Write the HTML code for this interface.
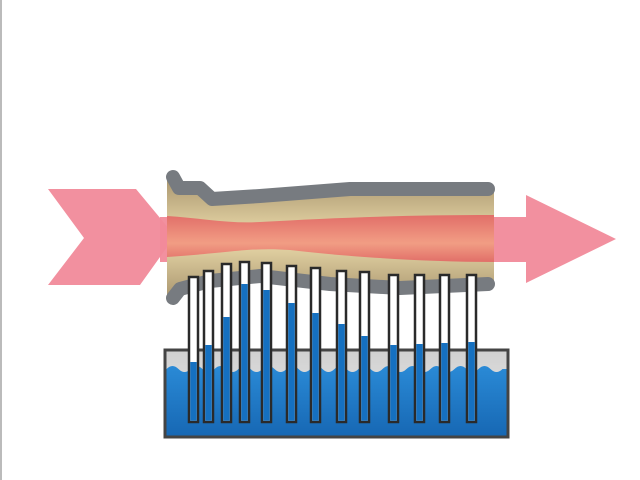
<!DOCTYPE html>
<html><head><meta charset="utf-8"><style>html,body{margin:0;padding:0;background:#fff}svg{display:block}</style></head>
<body>
<svg width="640" height="480" viewBox="0 0 640 480" xmlns="http://www.w3.org/2000/svg">
<defs>
<linearGradient id="beige" x1="0" y1="0" x2="0" y2="1">
<stop offset="0" stop-color="#a8946e"/><stop offset="0.5" stop-color="#ecdcab"/><stop offset="1" stop-color="#a8946e"/>
</linearGradient>
<linearGradient id="red" x1="0" y1="0" x2="0" y2="1">
<stop offset="0" stop-color="#e26a66"/><stop offset="0.6" stop-color="#f29a82"/><stop offset="1" stop-color="#e26a66"/>
</linearGradient>
<linearGradient id="water" x1="0" y1="0" x2="0" y2="1">
<stop offset="0" stop-color="#2a8ad6"/><stop offset="1" stop-color="#1768b4"/>
</linearGradient>
<linearGradient id="air" x1="0" y1="0" x2="0" y2="1">
<stop offset="0" stop-color="#d0d0d0"/><stop offset="1" stop-color="#eeeeee"/>
</linearGradient>
</defs>
<rect x="0" y="0" width="2" height="480" fill="#bbbbbb"/>
<polygon points="48,189 136,189 175,236 140,285 48,285 84,238" fill="#f18a9a" opacity="0.95"/>
<polygon points="160,217 526,217 526,195 616,239 526,283 526,262 160,262" fill="#f18a9a" opacity="0.95"/>
<path d="M167,176 L178,188 L200,188 L212,199 L260,196 L350,189 L494,189 L494,285 L400,288 L330,284 L260,276 L210,283 L180,289 L167,300 Z" fill="url(#beige)"/>
<path d="M167,216 C200,218 230,224 260,222 C330,218 400,215 494,215 L494,262 C420,262 340,256 290,250 C250,247 230,253 167,257 Z" fill="url(#red)" opacity="0.95"/>
<path d="M173,177 L179,188 L200,188 L212,199 L260,196 L350,189 L488,189" fill="none" stroke="#777b80" stroke-width="14" stroke-linecap="round" stroke-linejoin="round"/>
<path d="M173,298 L180,289 L210,281 L260,276 L330,284 L400,288 L488,284" fill="none" stroke="#777b80" stroke-width="14" stroke-linecap="round" stroke-linejoin="round"/>
<rect x="165" y="350" width="343" height="87" fill="url(#air)"/>
<path d="M166.5,369 q6,-6 12,0 t12,0 t12,0 t12,0 t12,0 t12,0 t12,0 t12,0 t12,0 t12,0 t12,0 t12,0 t12,0 t12,0 t12,0 t12,0 t12,0 t12,0 t12,0 t12,0 t12,0 t12,0 t12,0 t12,0 t12,0 t12,0 t12,0 t12,0 L506.5,369 L506.5,435.5 L166.5,435.5 Z" fill="url(#water)"/>
<rect x="165" y="350" width="343" height="87" fill="none" stroke="#444" stroke-width="3"/>
<g stroke="#2a2a2a" stroke-width="2.5">
<rect x="189" y="277" width="9" height="145" fill="#fff"/>
<rect x="204" y="271" width="9" height="151" fill="#fff"/>
<rect x="222" y="264" width="9" height="158" fill="#fff"/>
<rect x="240" y="262" width="9" height="160" fill="#fff"/>
<rect x="262" y="263" width="9" height="159" fill="#fff"/>
<rect x="287" y="266" width="9" height="156" fill="#fff"/>
<rect x="311" y="268" width="9" height="154" fill="#fff"/>
<rect x="337" y="271" width="9" height="151" fill="#fff"/>
<rect x="360" y="272" width="9" height="150" fill="#fff"/>
<rect x="389" y="275" width="9" height="147" fill="#fff"/>
<rect x="415" y="275" width="9" height="147" fill="#fff"/>
<rect x="440" y="275" width="9" height="147" fill="#fff"/>
<rect x="467" y="275" width="9" height="147" fill="#fff"/>
</g>
<g fill="#1570c0">
<rect x="190.25" y="362" width="6.5" height="58.75"/>
<rect x="205.25" y="345" width="6.5" height="75.75"/>
<rect x="223.25" y="317" width="6.5" height="103.75"/>
<rect x="241.25" y="284" width="6.5" height="136.75"/>
<rect x="263.25" y="290" width="6.5" height="130.75"/>
<rect x="288.25" y="303" width="6.5" height="117.75"/>
<rect x="312.25" y="313" width="6.5" height="107.75"/>
<rect x="338.25" y="324" width="6.5" height="96.75"/>
<rect x="361.25" y="336" width="6.5" height="84.75"/>
<rect x="390.25" y="345" width="6.5" height="75.75"/>
<rect x="416.25" y="344" width="6.5" height="76.75"/>
<rect x="441.25" y="343" width="6.5" height="77.75"/>
<rect x="468.25" y="342" width="6.5" height="78.75"/>
</g>
</svg>
</body></html>
